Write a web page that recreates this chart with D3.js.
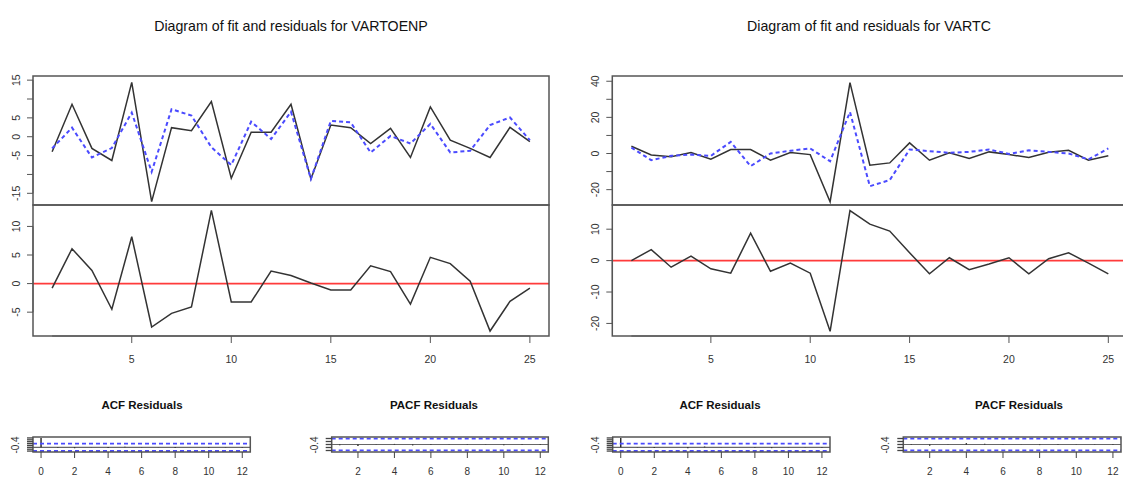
<!DOCTYPE html>
<html>
<head>
<meta charset="utf-8">
<script src="https://cdn.jsdelivr.net/npm/d3@7"></script>
<style>
  body { margin: 0; background: #fff; }
  svg { display: block; font-family: "Liberation Sans", Arial, sans-serif; }
</style>
</head>
<body>
<div id="chart"></div>
<script>
// time index for both series
const obs = d3.range(1, 26);

// VARTOENP: actual, fitted, residuals
const toenpActual = [-4, 8.6, -3.1, -6.3, 14.4, -17.2, 2.4, 1.6, 9.3, -11.0, 1.2, 1.2, 8.6, -11.2, 3.1, 2.4, -1.8, 2.2, -5.5, 7.9, -0.9, -3.1, -5.5, 2.5, -1.3];
const toenpFitted = [-3.1, 2.4, -5.5, -3.0, 6.4, -9.3, 7.3, 5.6, -2.8, -7.5, 4.0, -0.6, 6.6, -11.2, 4.2, 3.8, -4.2, 0.2, -1.8, 3.4, -4.2, -3.7, 3.1, 5.1, -0.9];
const toenpResid = [-0.8, 6.1, 2.3, -4.5, 8.2, -7.6, -5.2, -4.1, 12.8, -3.2, -3.2, 2.2, 1.4, 0.1, -1.1, -1.1, 3.1, 2.1, -3.6, 4.6, 3.5, 0.4, -8.3, -3.1, -0.8];

// VARTC: actual, fitted, residuals
const tcActual = [4.0, -0.8, -1.8, 0.5, -3.2, 2.2, 2.2, -3.7, 0.5, -0.6, -26.7, 39.2, -6.5, -5.2, 5.9, -3.7, 0.4, -2.8, 0.9, -0.6, -2.2, 0.7, 1.8, -3.7, -1.3];
const tcFitted = [3.3, -3.7, -1.3, -0.6, -1.3, 6.4, -7.0, 0.0, 1.5, 2.8, -4.3, 23.0, -18.1, -14.7, 2.2, 1.3, 0.4, 0.9, 2.2, -0.2, 1.8, 0.9, 0.0, -3.3, 2.8];
const tcResid = [0.0, 3.5, -2.1, 1.4, -2.6, -4.0, 8.7, -3.4, -0.8, -4.0, -22.5, 15.9, 11.6, 9.4, 2.5, -4.2, 0.9, -2.9, -1.1, 0.9, -4.2, 0.6, 2.5, -0.8, -4.2];

// residual correlograms (estimated, all small)
const acfLags = d3.range(0, 13);
const pacfLags = d3.range(1, 13);
const toenpAcf = [1, -0.05, -0.1, 0.02, -0.08, 0.05, -0.03, 0.02, -0.06, 0.01, -0.04, 0.03, -0.05];
const toenpPacf = [-0.05, -0.1, 0.01, 0.04, -0.06, 0.03, -0.02, -0.03, 0.02, -0.05, 0.03, -0.04];
const tcAcf = [1, -0.03, -0.08, 0.02, -0.1, 0.08, -0.02, 0.01, -0.04, -0.09, 0.02, 0.03, -0.05];
const tcPacf = [-0.03, -0.08, 0.02, 0.09, 0.05, -0.02, 0.01, -0.04, 0.03, -0.02, 0.02, -0.04];

const toenpTicksTop = [-15, -10, -5, 0, 5, 10, 15];
const toenpLabelsTop = [-15, -5, 0, 5, 15];
const toenpTicksRes = [-5, 0, 5, 10];
const tcTicksTop = [-20, -10, 0, 10, 20, 30, 40];
const tcLabelsTop = [-20, 0, 20, 40];
const tcTicksRes = [-20, -10, 0, 10];
const obsTicks = [5, 10, 15, 20, 25];
const corrTicks = [-0.4, -0.2, 0, 0.2, 0.4, 0.6, 0.8, 1.0];
const pcorrTicks = [-0.4, -0.2, 0, 0.2, 0.4];
const lagTicks = [0, 2, 4, 6, 8, 10, 12];
const plagTicks = [2, 4, 6, 8, 10, 12];

const W = 1123, H = 477;
const frame = "#555", lineCol = "#333", fitCol = "#4b4bff", zeroCol = "#ff3b3b";

const svg = d3.select("#chart").append("svg")
    .attr("width", W)
    .attr("height", H);

function yAxis(g, y, x0, ticks, labels) {
    const ax = g.append("g");
    ax.selectAll("line").data(ticks).enter().append("line")
        .attr("x1", x0).attr("x2", x0 - 6)
        .attr("y1", d => y(d)).attr("y2", d => y(d))
        .attr("stroke", frame).attr("stroke-width", 1);
    ax.append("line")
        .attr("x1", x0).attr("x2", x0)
        .attr("y1", y(d3.min(ticks))).attr("y2", y(d3.max(ticks)))
        .attr("stroke", frame);
    ax.selectAll("text").data(labels).enter().append("text")
        .attr("transform", d => "translate(" + (x0 - 13) + "," + y(d) + ") rotate(-90)")
        .attr("text-anchor", "middle")
        .attr("font-size", 10.5)
        .attr("fill", "#333")
        .text(d => d);
}

function fitPanel(opt) {
    const g = svg.append("g");
    const x = d3.scaleLinear().domain([0.04, 25.96]).range([opt.left, opt.right]);
    const yTop = d3.scaleLinear().domain(opt.topDomain).range([opt.mid, opt.top]);
    const yRes = d3.scaleLinear().domain(opt.resDomain).range([opt.bottom, opt.mid]);

    g.append("text")
        .attr("x", opt.titleX).attr("y", 31)
        .attr("text-anchor", "middle")
        .attr("font-size", 14.2)
        .attr("fill", "#111")
        .text(opt.title);

    // fit panel
    const line = d3.line().x((d, i) => x(obs[i])).y(d => yTop(d));
    g.append("path").datum(opt.actual)
        .attr("d", line).attr("fill", "none")
        .attr("stroke", lineCol).attr("stroke-width", 1.5);
    g.append("path").datum(opt.fitted)
        .attr("d", line).attr("fill", "none")
        .attr("stroke", fitCol).attr("stroke-width", 2)
        .attr("stroke-dasharray", "4,3");

    // residual panel
    const rline = d3.line().x((d, i) => x(obs[i])).y(d => yRes(d));
    g.append("line")
        .attr("x1", opt.left).attr("x2", opt.right)
        .attr("y1", yRes(0)).attr("y2", yRes(0))
        .attr("stroke", zeroCol).attr("stroke-width", 1.6);
    g.append("path").datum(opt.resid)
        .attr("d", rline).attr("fill", "none")
        .attr("stroke", lineCol).attr("stroke-width", 1.5);

    // frames
    [[opt.top, opt.mid], [opt.mid, opt.bottom]].forEach(r => {
        g.append("rect")
            .attr("x", opt.left).attr("y", r[0])
            .attr("width", opt.right - opt.left).attr("height", r[1] - r[0])
            .attr("fill", "none").attr("stroke", frame).attr("stroke-width", 1.5);
    });

    yAxis(g, yTop, opt.left, opt.topTicks, opt.topLabels);
    yAxis(g, yRes, opt.left, opt.resTicks, opt.resTicks);

    // x axis
    const xa = g.append("g");
    xa.append("line")
        .attr("x1", x(1)).attr("x2", x(25))
        .attr("y1", opt.bottom).attr("y2", opt.bottom)
        .attr("stroke", frame);
    xa.selectAll("line.t").data(obsTicks).enter().append("line")
        .attr("class", "t")
        .attr("x1", d => x(d)).attr("x2", d => x(d))
        .attr("y1", opt.bottom).attr("y2", opt.bottom + 7)
        .attr("stroke", frame);
    xa.selectAll("text").data(obsTicks).enter().append("text")
        .attr("x", d => x(d)).attr("y", opt.bottom + 27)
        .attr("text-anchor", "middle")
        .attr("font-size", 10.5).attr("fill", "#333")
        .text(d => d);
}

function corrPanel(opt) {
    const g = svg.append("g");
    const x = d3.scaleLinear().domain(opt.xDomain).range([opt.left, opt.right]);
    const y = d3.scaleLinear().domain(opt.yDomain).range([452, 437]);

    g.append("text")
        .attr("x", opt.titleX).attr("y", 409)
        .attr("text-anchor", "middle")
        .attr("font-size", 11.5).attr("font-weight", "bold")
        .attr("fill", "#111")
        .text(opt.title);

    g.append("line")
        .attr("x1", opt.left).attr("x2", opt.right)
        .attr("y1", y(0)).attr("y2", y(0))
        .attr("stroke", "#666").attr("stroke-width", 1.2);
    g.selectAll("line.bar").data(opt.values).enter().append("line")
        .attr("class", "bar")
        .attr("x1", (d, i) => x(opt.lags[i])).attr("x2", (d, i) => x(opt.lags[i]))
        .attr("y1", y(0)).attr("y2", d => y(d))
        .attr("stroke", "#222").attr("stroke-width", 1.4);
    [opt.conf, -opt.conf].forEach(c => {
        g.append("line")
            .attr("x1", opt.left).attr("x2", opt.right)
            .attr("y1", y(c)).attr("y2", y(c))
            .attr("stroke", fitCol).attr("stroke-width", 1.8)
            .attr("stroke-dasharray", "4,3");
    });
    g.append("rect")
        .attr("x", opt.left).attr("y", 437)
        .attr("width", opt.right - opt.left).attr("height", 15)
        .attr("fill", "none").attr("stroke", frame).attr("stroke-width", 1.5);

    // y axis: crowded ticks, only -0.4 labelled
    g.selectAll("line.yt").data(opt.yTicks).enter().append("line")
        .attr("class", "yt")
        .attr("x1", opt.left).attr("x2", opt.left - 6)
        .attr("y1", d => y(d)).attr("y2", d => y(d))
        .attr("stroke", "#444").attr("stroke-width", 1.3);
    g.append("text")
        .attr("transform", "translate(" + (opt.left - 14) + ",445) rotate(-90)")
        .attr("text-anchor", "middle")
        .attr("font-size", 10).attr("fill", "#333")
        .text("-0.4");

    g.selectAll("line.xt").data(opt.xTicks).enter().append("line")
        .attr("class", "xt")
        .attr("x1", d => x(d)).attr("x2", d => x(d))
        .attr("y1", 452).attr("y2", 458)
        .attr("stroke", "#444");
    g.selectAll("text.xl").data(opt.xTicks).enter().append("text")
        .attr("class", "xl")
        .attr("x", d => x(d)).attr("y", 475)
        .attr("text-anchor", "middle")
        .attr("font-size", 10).attr("fill", "#333")
        .text(d => d);
}

fitPanel({
    title: "Diagram of fit and residuals for VARTOENP", titleX: 291,
    left: 33, right: 549, top: 76, mid: 205, bottom: 336,
    topDomain: [-18.1, 16.1], resDomain: [-9.17, 13.75],
    actual: toenpActual, fitted: toenpFitted, resid: toenpResid,
    topTicks: toenpTicksTop, topLabels: toenpLabelsTop, resTicks: toenpTicksRes
});

fitPanel({
    title: "Diagram of fit and residuals for VARTC", titleX: 869,
    left: 612.3, right: 1127.4, top: 76, mid: 205, bottom: 336,
    topDomain: [-28.5, 42.9], resDomain: [-24.0, 17.7],
    actual: tcActual, fitted: tcFitted, resid: tcResid,
    topTicks: tcTicksTop, topLabels: tcLabelsTop, resTicks: tcTicksRes
});

corrPanel({ title: "ACF Residuals", titleX: 142, left: 33, right: 250.3,
    xDomain: [-0.48, 12.48], yDomain: [-0.5, 1.1], conf: 0.392,
    lags: acfLags, values: toenpAcf, yTicks: corrTicks, xTicks: lagTicks });
corrPanel({ title: "PACF Residuals", titleX: 434, left: 331.7, right: 548.3,
    xDomain: [0.56, 12.44], yDomain: [-0.5, 0.5], conf: 0.392,
    lags: pacfLags, values: toenpPacf, yTicks: pcorrTicks, xTicks: plagTicks });
corrPanel({ title: "ACF Residuals", titleX: 720, left: 612.7, right: 830,
    xDomain: [-0.48, 12.48], yDomain: [-0.5, 1.1], conf: 0.392,
    lags: acfLags, values: tcAcf, yTicks: corrTicks, xTicks: lagTicks });
corrPanel({ title: "PACF Residuals", titleX: 1019, left: 903.3, right: 1121,
    xDomain: [0.56, 12.44], yDomain: [-0.5, 0.5], conf: 0.392,
    lags: pacfLags, values: tcPacf, yTicks: pcorrTicks, xTicks: plagTicks });
</script>
</body>
</html>
